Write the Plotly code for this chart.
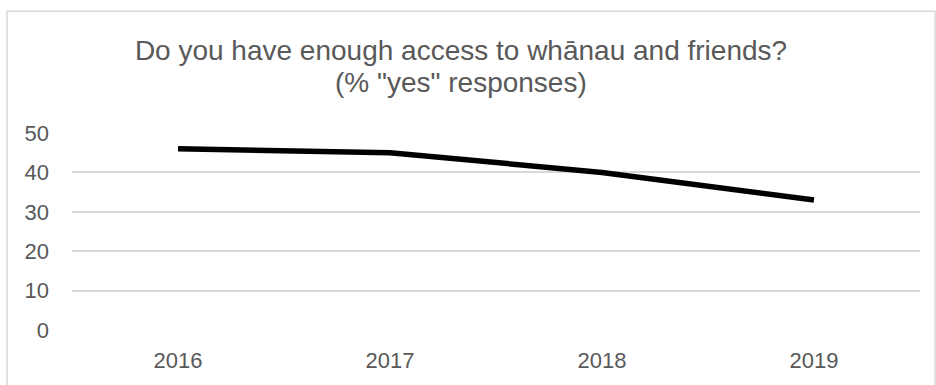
import plotly.graph_objects as go

# Survey results: share of "yes" responses by year
years = ["2016", "2017", "2018", "2019"]
yes_pct = [46, 45, 40, 33]
y_ticks = [0, 10, 20, 30, 40, 50]
title_main = "Do you have enough access to whānau and friends?"
title_sub = "(% \"yes\" responses)"

W, H = 936, 385
L, R, T, B = 72, 16, 133, 53
pw, ph = W - L - R, H - T - B


def px_to_paper_y(py):
    return (T + ph - py) / ph


def px_to_paper_x(px):
    return (px - L) / pw


fig = go.Figure(
    go.Scatter(
        x=years,
        y=yes_pct,
        mode="lines",
        line=dict(color="#000000", width=5.5),
        hoverinfo="x+y",
    )
)

grey = "#595959"
title_x = 461
fig.update_layout(
    width=W,
    height=H,
    margin=dict(l=L, r=R, t=T, b=B),
    paper_bgcolor="white",
    plot_bgcolor="white",
    showlegend=False,
    font=dict(family="Liberation Sans, Arial, sans-serif", color=grey),
    title=dict(
        text=title_main,
        x=title_x / W,
        xanchor="center",
        y=1 - 50 / H,
        yanchor="middle",
        yref="container",
        font=dict(size=28, color=grey),
    ),
    xaxis=dict(
        type="category",
        range=[-0.5, len(years) - 0.5],
        showgrid=False,
        showline=False,
        zeroline=False,
        tickfont=dict(size=22, color=grey),
        ticks="",
        ticklabelstandoff=15,
    ),
    yaxis=dict(
        range=[0, 50],
        tickvals=y_ticks,
        showgrid=True,
        gridcolor="#d9d9d9",
        gridwidth=1.5,
        zeroline=False,
        showline=False,
        tickfont=dict(size=22, color=grey),
        ticks="",
        ticklabelstandoff=22,
    ),
)

# Second title line, set a little tighter than the default line height
fig.add_annotation(
    text=title_sub,
    xref="paper",
    yref="paper",
    x=px_to_paper_x(title_x),
    y=px_to_paper_y(82),
    xanchor="center",
    yanchor="middle",
    showarrow=False,
    font=dict(size=28, color=grey),
)

# Light frame around the whole chart area
fig.add_shape(
    type="rect",
    xref="paper",
    yref="paper",
    x0=px_to_paper_x(7),
    x1=px_to_paper_x(935),
    y0=px_to_paper_y(400),
    y1=px_to_paper_y(10),
    line=dict(color="#d9d9d9", width=1.5),
    fillcolor="rgba(0,0,0,0)",
    layer="below",
)

fig.write_html("out.html")
